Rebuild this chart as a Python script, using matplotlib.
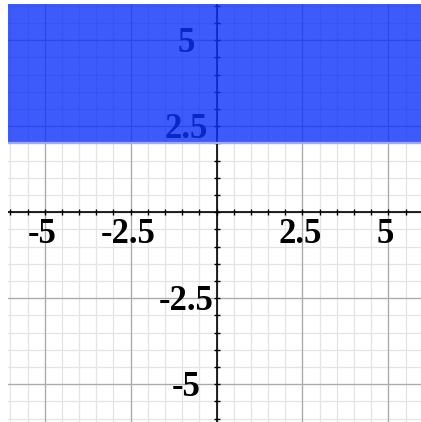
import matplotlib.pyplot as plt
import numpy as np

# inequality y > 2 shaded on a coordinate grid
boundary = 2.0
x_range = [-6.07, 5.95]
y_range = [-6.1, 6.05]
label_ticks = [-5, -2.5, 2.5, 5]
label_texts = ["-5", "-2.5", "2.5", "5"]

fig = plt.figure(figsize=(4.21, 4.22), dpi=100)
ax = fig.add_axes([8 / 421, 0, 1 - 8 / 421, 1 - 4 / 422])
ax.set_xlim(x_range)
ax.set_ylim(y_range)

# grid
minor = np.arange(-6, 6.01, 0.5)
major = [-5, -2.5, 0, 2.5, 5]
for v in minor:
    ax.axvline(v, color="#e4e4e4", lw=0.9, zorder=0)
    ax.axhline(v, color="#e4e4e4", lw=0.9, zorder=0)
for v in major:
    ax.axvline(v, color="#aaaaaa", lw=0.9, zorder=0)
    ax.axhline(v, color="#aaaaaa", lw=0.9, zorder=0)

# axes through origin
ax.axhline(0, color="black", lw=1.2, zorder=2)
ax.axvline(0, color="black", lw=1.2, zorder=2)
ax.plot(minor, np.zeros_like(minor), ls="none", marker="|", ms=5, mew=1.0, color="black", zorder=2)
ax.plot(np.zeros_like(minor), minor, ls="none", marker="_", ms=5, mew=1.0, color="black", zorder=2)

# tick labels
font = dict(family="Liberation Serif", weight="bold", size=25, color="black")
for t, s in zip(label_ticks, label_texts):
    ax.text(t - 0.08, -0.9, s, ha="center", va="baseline", zorder=3, **font)
    ax.text(-0.89, t - 0.35, s, ha="center", va="baseline", zorder=3, **font)

# shaded region
ax.axhspan(boundary, y_range[1] + 1, color="#0c31f9", alpha=0.8, lw=0, zorder=4)
ax.axhline(boundary, color="#9aaafc", lw=1.6, zorder=5)

for sp in ax.spines.values():
    sp.set_visible(False)
ax.set_xticks([])
ax.set_yticks([])

fig.savefig("out.png", dpi=100)
